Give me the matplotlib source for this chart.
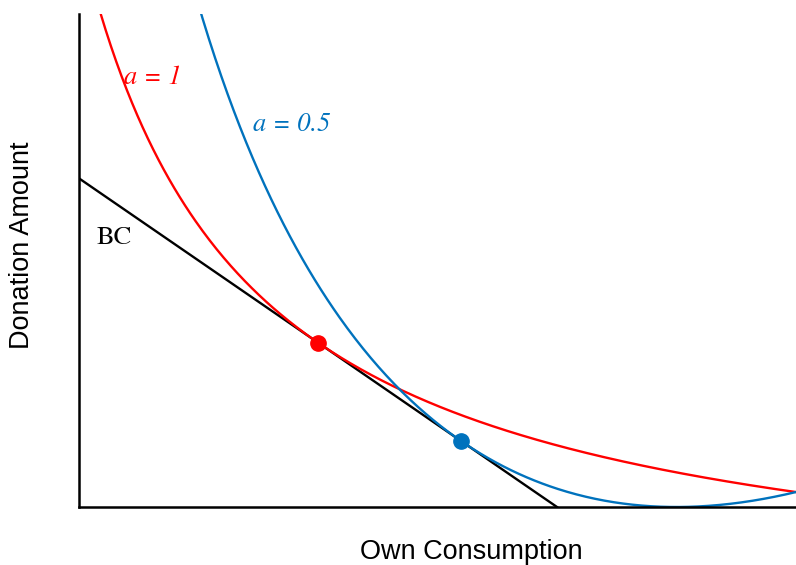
import matplotlib.pyplot as plt
import numpy as np

# budget constraint: own consumption + donation = income
income = 10.0
x_max = 15.0
y_max = 15.0

# optimal bundles for each curvature parameter
red_opt = (5.0, 5.0)
blue_opt = (8.0, 2.0)

# indifference curve parameters
red_shift = 10.0 / 3.0      # (x + s)(y + s) = (xo + s)(yo + s)
blue_weight = 2.0           # w*sqrt(x) + sqrt(y) = const

red_col = "#ff0000"
blue_col = "#0072bd"

fig = plt.figure(figsize=(7.96, 5.65), dpi=100)
ax = fig.add_axes([79 / 796, 1 - 507 / 565, 1 - 79 / 796, (507 - 14) / 565])

# budget line
xb = np.linspace(0, income, 50)
ax.plot(xb, income - xb, color="k", lw=1.7)

# a = 1 curve
xr = np.linspace(0.3, x_max, 400)
kr = (red_opt[0] + red_shift) * (red_opt[1] + red_shift)
ax.plot(xr, kr / (xr + red_shift) - red_shift, color=red_col, lw=1.7)

# a = 0.5 curve
xq = np.linspace(2.0, x_max, 400)
kq = blue_weight * np.sqrt(blue_opt[0]) + np.sqrt(blue_opt[1])
ax.plot(xq, (kq - blue_weight * np.sqrt(xq)) ** 2, color=blue_col, lw=1.7)

ax.plot(*red_opt, "o", color=red_col, ms=11, zorder=5)
ax.plot(*blue_opt, "o", color=blue_col, ms=11, zorder=5)

serif = dict(family="STIXGeneral", fontsize=19)
ax.text(0.94, 12.86, "a = 1", color=red_col, style="italic", **serif)
ax.text(3.63, 11.43, "a = 0.5", color=blue_col, style="italic", **serif)
ax.text(0.37, 8.0, "BC", color="k", **serif)

ax.set_xlim(0, x_max)
ax.set_ylim(0, y_max)
ax.set_xticks([])
ax.set_yticks([])
for side in ["top", "right"]:
    ax.spines[side].set_visible(False)
for side in ["left", "bottom"]:
    ax.spines[side].set_linewidth(1.8)

fig.text(471 / 796, 1 - 552 / 565, "Own Consumption", fontsize=19.5,
         family="Liberation Sans", ha="center", va="center")
fig.text(22 / 796, 1 - 245 / 565, "Donation Amount", fontsize=19.5,
         family="Liberation Sans", ha="center", va="center", rotation=90)

fig.savefig("out.png", dpi=100)
